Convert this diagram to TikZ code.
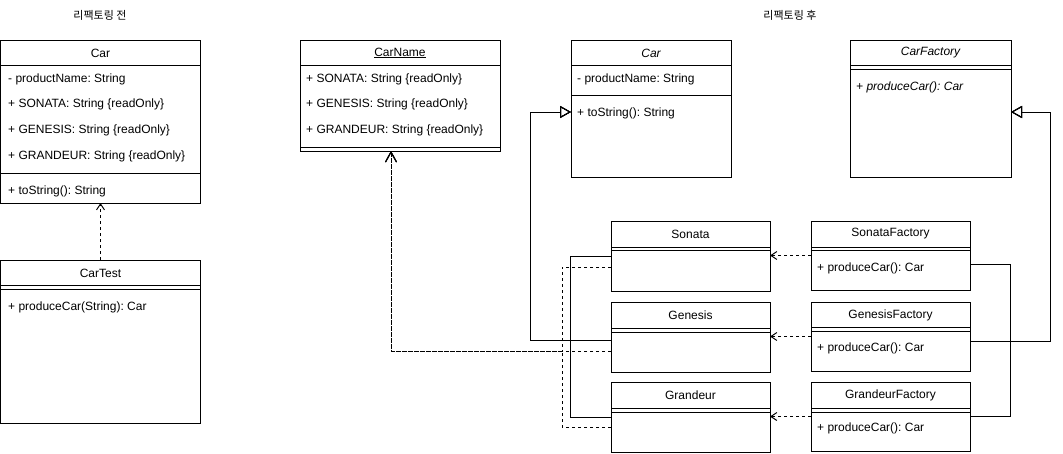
\documentclass[tikz,border=0pt]{standalone}
\usepackage{fontspec}
\setmainfont{Liberation Sans}
\newfontfamily\krfont{Noto Sans CJK KR}
\usepackage{tikz}
\usetikzlibrary{arrows.meta}
\frenchspacing
\tikzstyle{classbox} = [rectangle, draw, line width=1pt, anchor=north west, inner sep=0pt, outer sep=0pt]
\tikzstyle{ctitle} = [inner sep=0pt, font=\fontsize{12}{14}\selectfont]
\tikzstyle{member} = [anchor=west, inner sep=0pt, font=\fontsize{12}{14}\selectfont]
\tikzstyle{heading} = [inner sep=0pt, font=\krfont\fontsize{11}{13}\selectfont]
\tikzstyle{inherit} = [draw, line width=1pt, -{Triangle[open, length=11pt, width=12pt]}]
\tikzstyle{depend} = [draw, line width=1pt, dash pattern=on 3pt off 3pt, -{Straight Barb[length=6pt, width=8pt]}]
\tikzstyle{bigdepend} = [depend, -{Straight Barb[length=10pt, width=11pt]}]

\begin{document}
\begin{tikzpicture}[x=1pt, y=-1pt]
\useasboundingbox (0,0) rectangle (1063,453);

%% before refactoring
\node[heading] at (100,15) (beforelabel) {리팩토링 전};

\node[classbox, minimum width=200pt, minimum height=163pt] at (0.5,40) (oldcar) {};
\node[ctitle] at ([yshift=-13pt]oldcar.north) {Car};
\draw ([yshift=-25pt]oldcar.north west) -- ([yshift=-25pt]oldcar.north east);
\node[member] at (8,79) {- productName: String};
\node[member] at (8,104) {+ SONATA: String \{readOnly\}};
\node[member] at (8,130) {+ GENESIS: String \{readOnly\}};
\node[member] at (8,156) {+ GRANDEUR: String \{readOnly\}};
\draw ([yshift=-133pt]oldcar.north west) -- ([yshift=-133pt]oldcar.north east);
\node[member] at (8,191) {+ toString(): String};

\node[classbox, minimum width=200pt, minimum height=163pt] at (0.5,260) (cartest) {};
\node[ctitle] at ([yshift=-13pt]cartest.north) {CarTest};
\draw ([yshift=-25pt]cartest.north west) -- ([yshift=-25pt]cartest.north east);
\draw ([yshift=-29pt]cartest.north west) -- ([yshift=-29pt]cartest.north east);
\node[member] at (8,307) {+ produceCar(String): Car};

\path[depend] (cartest.north) -- (oldcar.south);

%% after refactoring
\node[heading] at (790,15) (afterlabel) {리팩토링 후};

\node[classbox, minimum width=200pt, minimum height=111pt] at (300,40) (carname) {};
\node[ctitle] at ([yshift=-13pt]carname.north) {\underline{CarName}};
\draw ([yshift=-25pt]carname.north west) -- ([yshift=-25pt]carname.north east);
\node[member] at (306,79) {+ SONATA: String \{readOnly\}};
\node[member] at (306,104) {+ GENESIS: String \{readOnly\}};
\node[member] at (306,130) {+ GRANDEUR: String \{readOnly\}};
\draw ([yshift=-107pt]carname.north west) -- ([yshift=-107pt]carname.north east);

\node[classbox, minimum width=160pt, minimum height=137pt] at (571,40) (car) {};
\node[ctitle] at ([yshift=-13pt]car.north) {\itshape Car};
\draw ([yshift=-25pt]car.north west) -- ([yshift=-25pt]car.north east);
\node[member] at (577,79) {- productName: String};
\draw ([yshift=-55pt]car.north west) -- ([yshift=-55pt]car.north east);
\node[member] at (577,113) {+ toString(): String};

\node[classbox, minimum width=161pt, minimum height=137pt] at (850,40) (carfactory) {};
\node[ctitle] at ([yshift=-13pt]carfactory.north) {\itshape CarFactory};
\draw ([yshift=-25pt]carfactory.north west) -- ([yshift=-25pt]carfactory.north east);
\draw ([yshift=-29pt]carfactory.north west) -- ([yshift=-29pt]carfactory.north east);
\node[member] at (856,87) {\itshape + produceCar(): Car};

% cars
\node[classbox, minimum width=159pt, minimum height=70pt] at (611,221) (sonata) {};
\node[ctitle] at ([yshift=-13pt]sonata.north) {Sonata};
\draw ([yshift=-26pt]sonata.north west) -- ([yshift=-26pt]sonata.north east);
\draw ([yshift=-29pt]sonata.north west) -- ([yshift=-29pt]sonata.north east);

\node[classbox, minimum width=159pt, minimum height=70pt] at (611,302) (genesis) {};
\node[ctitle] at ([yshift=-13pt]genesis.north) {Genesis};
\draw ([yshift=-26pt]genesis.north west) -- ([yshift=-26pt]genesis.north east);
\draw ([yshift=-30pt]genesis.north west) -- ([yshift=-30pt]genesis.north east);

\node[classbox, minimum width=159pt, minimum height=70pt] at (611,382) (grandeur) {};
\node[ctitle] at ([yshift=-13pt]grandeur.north) {Grandeur};
\draw ([yshift=-26pt]grandeur.north west) -- ([yshift=-26pt]grandeur.north east);
\draw ([yshift=-30pt]grandeur.north west) -- ([yshift=-30pt]grandeur.north east);

% factories
\node[classbox, minimum width=159pt, minimum height=69pt] at (811,221) (sonatafactory) {};
\node[ctitle] at ([yshift=-13pt]sonatafactory.north) {SonataFactory};
\draw ([yshift=-26pt]sonatafactory.north west) -- ([yshift=-26pt]sonatafactory.north east);
\draw ([yshift=-29pt]sonatafactory.north west) -- ([yshift=-29pt]sonatafactory.north east);
\node[member] at (817,268) {+ produceCar(): Car};

\node[classbox, minimum width=159pt, minimum height=69pt] at (811,302) (genesisfactory) {};
\node[ctitle] at ([yshift=-13pt]genesisfactory.north) {GenesisFactory};
\draw ([yshift=-25pt]genesisfactory.north west) -- ([yshift=-25pt]genesisfactory.north east);
\draw ([yshift=-29pt]genesisfactory.north west) -- ([yshift=-29pt]genesisfactory.north east);
\node[member] at (817,348) {+ produceCar(): Car};

\node[classbox, minimum width=159pt, minimum height=69pt] at (811,382) (grandeurfactory) {};
\node[ctitle] at ([yshift=-13pt]grandeurfactory.north) {GrandeurFactory};
\draw ([yshift=-26pt]grandeurfactory.north west) -- ([yshift=-26pt]grandeurfactory.north east);
\draw ([yshift=-30pt]grandeurfactory.north west) -- ([yshift=-30pt]grandeurfactory.north east);
\node[member] at (817,428) {+ produceCar(): Car};

% bends
\coordinate (carbus) at (570,340);
\coordinate (carup) at (530,112);
\coordinate (namebus) at (562,351);
\coordinate (factbus) at (1010,341);
\coordinate (factup) at (1050,112);

% inheritance
\path[inherit] (sonata.west) -| (carbus) -| (carup) -- ([yshift=-3.5pt]car.west);
\path[inherit] ([yshift=-3pt]genesis.west) -| (carup) -- ([yshift=-3.5pt]car.west);
\path[inherit] (grandeur.west) -| (carbus) -| (carup) -- ([yshift=-3.5pt]car.west);

\path[inherit] ([yshift=-8.5pt]sonatafactory.east) -| (factbus) -| (factup) -- ([yshift=-3.5pt]carfactory.east);
\path[inherit] ([yshift=-4.5pt]genesisfactory.east) -| (factup) -- ([yshift=-3.5pt]carfactory.east);
\path[inherit] (grandeurfactory.east) -| (factbus) -| (factup) -- ([yshift=-3.5pt]carfactory.east);

% dependencies
\path[bigdepend] ([yshift=-11pt]sonata.west) -| (namebus) -| ([xshift=-9pt]carname.south);
\path[bigdepend] ([yshift=-14pt]genesis.west) -| ([xshift=-9pt]carname.south);
\path[bigdepend] ([yshift=-10pt]grandeur.west) -| (namebus) -| ([xshift=-9pt]carname.south);

\path[depend] (sonatafactory.west) -- (sonata.east |- sonatafactory.west);
\path[depend] (genesisfactory.west) -- (genesis.east |- genesisfactory.west);
\path[depend] (grandeurfactory.west) -- (grandeur.east |- grandeurfactory.west);
\end{tikzpicture}
\end{document}
